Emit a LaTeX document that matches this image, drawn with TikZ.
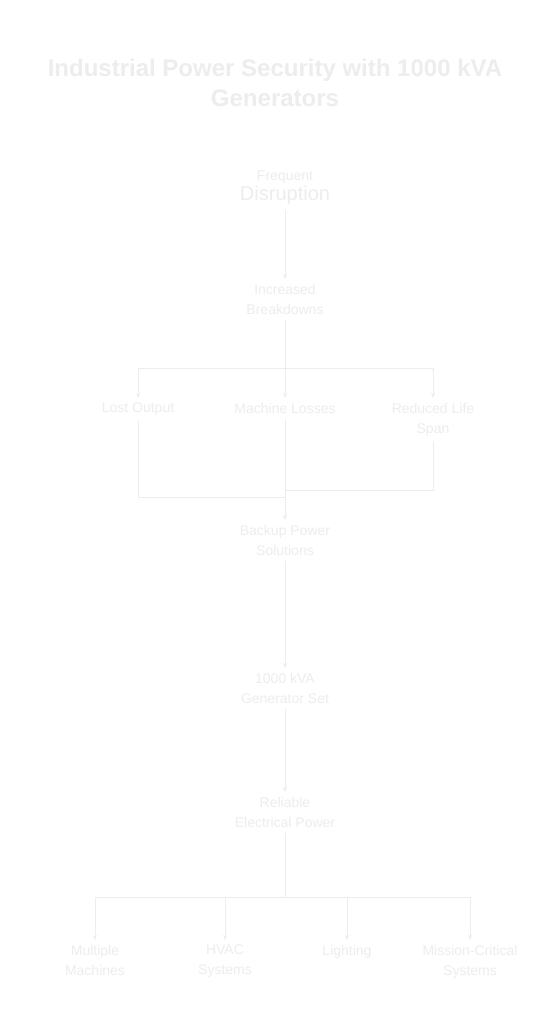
\documentclass[tikz,border=0pt]{standalone}
\usepackage{fontspec}
\setmainfont{Liberation Sans}
\usetikzlibrary{arrows.meta}
\definecolor{faint}{gray}{0.93}
\tikzset{flow/.style={anchor=north,align=center,text=faint,inner sep=5pt,font=\fontsize{14}{20}\selectfont}}
\newcommand{\flowbox}[4][]{\node[flow,#1] at (#2) (#3) {#4}}

\begin{document}
\begin{tikzpicture}[x=1pt,y=-1pt,
  link/.style={draw=faint,line width=0.8pt},
  tip/.style={link,-{Stealth[length=5pt,width=4pt]}}]
  \useasboundingbox (0,0) rectangle (558,1024);
  \fill[white] (0,0) rectangle (558,1024);

  \node[align=center,text=faint,font=\bfseries\fontsize{24}{30}\selectfont] at (275,83) (title)
    {Industrial Power Security with 1000 kVA\\Generators};

  \flowbox{285,166}{freq}{Frequent\\{\fontsize{20}{25}\selectfont Disruption}};
  \flowbox{285,279}{incr}{Increased\\Breakdowns};
  \coordinate (split) at (285,368);
  \flowbox{138,398}{lost}{Lost Output};
  \flowbox{285,398}{mach}{Machine Losses};
  \flowbox{433,398}{life}{Reduced Life\\Span};
  \coordinate (joinl) at (285,497);
  \coordinate (joinr) at (285,490);
  \flowbox{285,520}{backup}{Backup Power\\Solutions};
  \flowbox{285,668}{gen}{1000 kVA\\Generator Set};
  \flowbox{285,792}{rel}{Reliable\\Electrical Power};
  \coordinate (fan) at (285,897);
  \flowbox{95,940}{mult}{Multiple\\Machines};
  \flowbox{225,940}{hvac}{HVAC\\Systems};
  \flowbox{347,940}{light}{Lighting};
  \flowbox{470,940}{crit}{Mission-Critical\\Systems};

  \draw[link] (incr) -- (split)
        (lost) |- (joinl)
        (life) |- (joinr)
        (rel) -- (fan);
  \draw[tip] (freq) -- (incr);
  \draw[tip] (split) -| (lost);
  \draw[tip] (split) -- (mach);
  \draw[tip] (split) -| (life);
  \draw[tip] (mach) -- (backup);
  \draw[tip] (backup) -- (gen);
  \draw[tip] (gen) -- (rel);
  \draw[tip] (fan) -| (mult);
  \draw[tip] (fan) -| (hvac);
  \draw[tip] (fan) -| (light);
  \draw[tip] (fan) -| (crit);
\end{tikzpicture}
\end{document}
